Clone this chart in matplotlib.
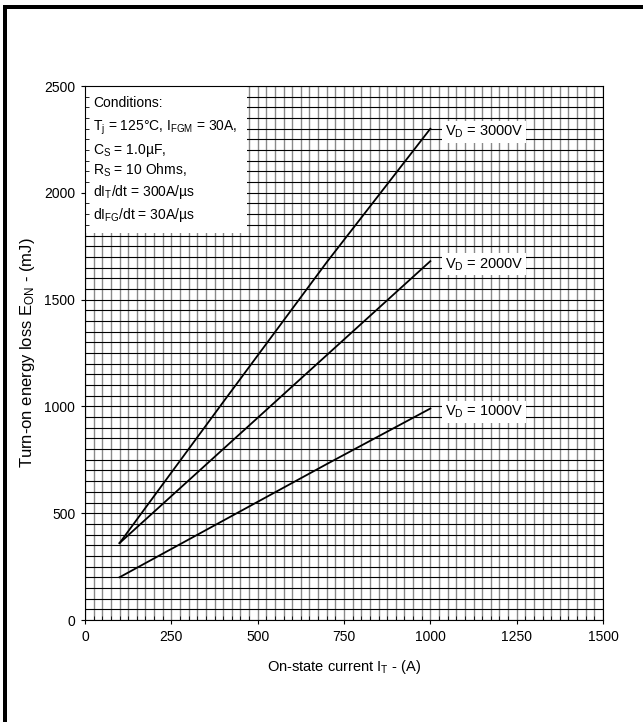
import matplotlib.pyplot as plt
from matplotlib.patches import Rectangle
from matplotlib.ticker import MultipleLocator

plt.rcParams['font.family'] = ['Liberation Sans', 'DejaVu Sans']
plt.rcParams['mathtext.fontset'] = 'custom'
plt.rcParams['mathtext.rm'] = 'Liberation Sans'
plt.rcParams['mathtext.it'] = 'Liberation Sans'

# turn-on energy loss vs on-state current, one curve per blocking voltage
current = [100, 400, 700, 1000]
e_on_3000v = [360, 1020, 1675, 2300]
e_on_2000v = [360, 800, 1240, 1680]
e_on_1000v = [200, 465, 730, 990]
curve_labels = [r'V$\mathregular{_D}$ = 3000V',
                r'V$\mathregular{_D}$ = 2000V',
                r'V$\mathregular{_D}$ = 1000V']

x_ticks = [0, 250, 500, 750, 1000, 1250, 1500]
y_ticks = [0, 500, 1000, 1500, 2000, 2500]

conditions = ['Conditions:',
              r'T$\mathregular{_j}$ = 125°C, I$\mathregular{_{FGM}}$ = 30A,',
              r'C$\mathregular{_S}$ = 1.0µF,',
              r'R$\mathregular{_S}$ = 10 Ohms,',
              r'dI$\mathregular{_T}$/dt = 300A/µs',
              r'dI$\mathregular{_{FG}}$/dt = 30A/µs']
condition_rows = [2421, 2303, 2200, 2107, 2004, 1896]

fig = plt.figure(figsize=(6.43, 7.22), dpi=100)
ax = fig.add_axes([85 / 643, 1 - 620 / 722, 518 / 643, 534 / 722])

# graph paper grid
for gx in range(0, 1501, 25):
    ax.axvline(gx, color='#8a8a8a', lw=1.0, zorder=1)
for gy in range(0, 2501, 50):
    ax.axhline(gy, color='black', lw=0.8, zorder=1)

ax.add_patch(Rectangle((0, 1812), 468, 700, facecolor='white',
                       edgecolor='none', zorder=2))
for row, line in zip(condition_rows, conditions):
    ax.text(23, row, line, fontsize=10, va='center', ha='left', zorder=4)

for y, lab in zip([e_on_3000v, e_on_2000v, e_on_1000v], curve_labels):
    ax.plot(current, y, color='black', lw=1.3, zorder=3)
    ax.text(current[-1] + 42, y[-1] - 15, lab, fontsize=10.5, va='center',
            ha='left', zorder=4,
            bbox=dict(facecolor='white', edgecolor='none', pad=2))

ax.set_xlim(0, 1500)
ax.set_ylim(0, 2500)
ax.set_xticks(x_ticks)
ax.set_yticks(y_ticks)
ax.xaxis.set_minor_locator(MultipleLocator(25))
ax.yaxis.set_minor_locator(MultipleLocator(50))
ax.tick_params(which='major', direction='out', length=3, width=0.8,
               labelsize=10, pad=4)
ax.tick_params(which='minor', direction='in', length=3, width=0.6)
ax.set_axisbelow(False)
for sp in ax.spines.values():
    sp.set_linewidth(0.8)

ax.set_xlabel(r'On-state current I$\mathregular{_T}$ - (A)', fontsize=10.5,
              labelpad=10)
ax.set_ylabel(r'Turn-on energy loss E$\mathregular{_{ON}}$ - (mJ)',
              fontsize=12, labelpad=5)

# page frame on the left and top edges
fig.add_artist(Rectangle((3 / 643, 0), 4 / 643, 1 - 5 / 722,
                         transform=fig.transFigure, facecolor='black',
                         edgecolor='none'))
fig.add_artist(Rectangle((3 / 643, 1 - 9 / 722), 640 / 643, 4 / 722,
                         transform=fig.transFigure, facecolor='black',
                         edgecolor='none'))

fig.savefig('out.png', dpi=100)
